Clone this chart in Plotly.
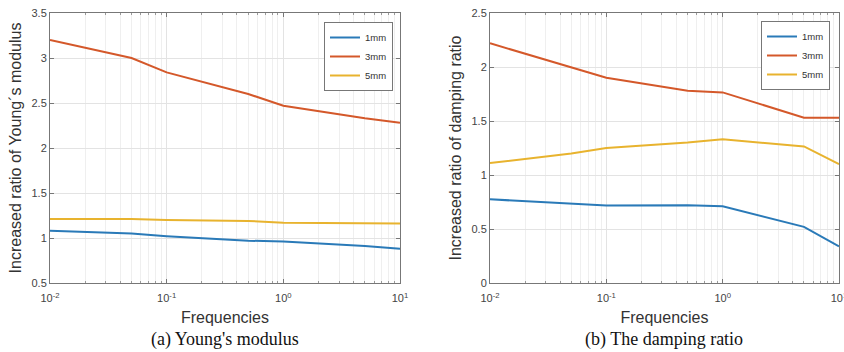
import numpy as np
import plotly.graph_objects as go

freqs = [0.01, 0.05, 0.1, 0.5, 1, 5, 10]
series_names = ["1mm", "3mm", "5mm"]

young_1mm = [1.08, 1.05, 1.02, 0.97, 0.96, 0.91, 0.88]
young_3mm = [3.20, 3.00, 2.84, 2.60, 2.47, 2.33, 2.28]
young_5mm = [1.21, 1.21, 1.20, 1.19, 1.17, 1.165, 1.16]

damp_1mm = [0.775, 0.735, 0.717, 0.72, 0.71, 0.52, 0.34]
damp_3mm = [2.22, 2.00, 1.90, 1.78, 1.765, 1.53, 1.53]
damp_5mm = [1.11, 1.20, 1.25, 1.30, 1.33, 1.265, 1.10]

x_tickvals = [0.01, 0.1, 1, 10]
x_ticktext = ["10<sup>-2</sup>", "10<sup>-1</sup>", "10<sup>0</sup>", "10<sup>1</sup>"]
y1_ticks = [0.5, 1, 1.5, 2, 2.5, 3, 3.5]
y1_ticktext = ["0.5", "1", "1.5", "2", "2.5", "3", "3.5"]
y2_ticks = [0, 0.5, 1, 1.5, 2, 2.5]
y2_ticktext = ["0", "0.5", "1", "1.5", "2", "2.5"]

colors = ["#2A7AB8", "#D4582A", "#E8B32E"]

W, H = 844, 352
def px_x(p): return p / W
def px_y(p): return 1 - p / H

minor_vals = [m * 10.0 ** e for e in range(-2, 1) for m in range(2, 10)]

fig = go.Figure()
for name, ys, c in zip(series_names, [young_1mm, young_3mm, young_5mm], colors):
    fig.add_trace(go.Scatter(x=freqs, y=ys, mode="lines", name=name,
                             line=dict(color=c, width=2), xaxis="x", yaxis="y",
                             legend="legend"))
for name, ys, c in zip(series_names, [damp_1mm, damp_3mm, damp_5mm], colors):
    fig.add_trace(go.Scatter(x=freqs, y=ys, mode="lines", name=name,
                             line=dict(color=c, width=2), xaxis="x2", yaxis="y2",
                             legend="legend2"))

tickfont = dict(family="Liberation Sans, Arial", size=11, color="#444")
axis_common = dict(showline=True, linecolor="#777", linewidth=1, mirror="ticks",
                   ticks="inside", ticklen=4, tickcolor="#777",
                   showgrid=True, gridcolor="#e3e3e3", gridwidth=1,
                   zeroline=False, tickfont=tickfont, automargin=False,
                   ticklabeloverflow="allow")

xa = dict(type="log", range=[-2, 1], tickvals=x_tickvals, ticktext=x_ticktext,
          ticklabelstandoff=5,
          minor=dict(tickvals=minor_vals, showgrid=True, gridcolor="#efefef",
                     ticks="inside", ticklen=2, tickcolor="#999"),
          title=dict(text="Frequencies", font=dict(family="Liberation Sans, Arial", size=16, color="#333"), standoff=8),
          **axis_common)

legend_font = dict(family="Liberation Sans, Arial", size=9.5, color="#333")

fig.update_layout(
    width=W, height=H, margin=dict(l=0, r=0, t=0, b=0, autoexpand=False),
    paper_bgcolor="white", plot_bgcolor="white",
    xaxis=dict(domain=[px_x(50), px_x(400)], anchor="y", **xa),
    xaxis2=dict(domain=[px_x(490), px_x(839)], anchor="y2", **xa),
    yaxis=dict(domain=[px_y(283), px_y(13)], anchor="x", range=[0.5, 3.5],
               tickvals=y1_ticks, ticktext=y1_ticktext,
               title=dict(text="Increased ratio of Young´s modulus",
                          font=dict(family="Liberation Sans, Arial", size=16, color="#333"), standoff=5),
               **axis_common),
    yaxis2=dict(domain=[px_y(283), px_y(13)], anchor="x2", range=[0, 2.5],
                tickvals=y2_ticks, ticktext=y2_ticktext,
                title=dict(text="Increased ratio of damping ratio",
                           font=dict(family="Liberation Sans, Arial", size=16, color="#333"), standoff=5),
                **axis_common),
    legend=dict(x=px_x(393), y=px_y(22), xanchor="right", yanchor="top",
                bgcolor="white", bordercolor="#777", borderwidth=1,
                font=legend_font, tracegroupgap=0, itemwidth=30),
    legend2=dict(x=px_x(830), y=px_y(21), xanchor="right", yanchor="top",
                 bgcolor="white", bordercolor="#777", borderwidth=1,
                 font=legend_font, tracegroupgap=0, itemwidth=30),
    annotations=[
        dict(text="(a) Young's modulus", x=px_x(225), y=0, xref="paper", yref="paper",
             showarrow=False, xanchor="center", yanchor="bottom",
             font=dict(family="Liberation Serif, Times New Roman", size=18, color="#111")),
        dict(text="(b) The damping ratio", x=px_x(664), y=0, xref="paper", yref="paper",
             showarrow=False, xanchor="center", yanchor="bottom",
             font=dict(family="Liberation Serif, Times New Roman", size=18, color="#111")),
    ],
)

fig.write_html("out.html", config={"displayModeBar": False},
               post_script="document.body.style.margin='0';document.body.style.padding='0';document.body.style.overflow='hidden';")
